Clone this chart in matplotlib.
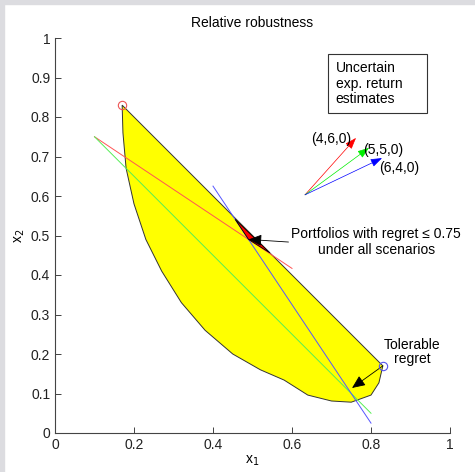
import matplotlib.pyplot as plt
from matplotlib.patches import Polygon, Rectangle

plt.rcParams['font.family'] = ['Liberation Sans', 'DejaVu Sans']

# yellow region: portfolios with tolerable regret (x1, x2)
region_x = [0.17, 0.83, 0.82, 0.80, 0.75, 0.70, 0.64, 0.58, 0.52, 0.45,
            0.38, 0.32, 0.27, 0.23, 0.20, 0.18, 0.172]
region_y = [0.83, 0.17, 0.127, 0.096, 0.078, 0.081, 0.096, 0.134, 0.16, 0.20,
            0.26, 0.33, 0.41, 0.49, 0.58, 0.67, 0.76]

# red sliver: regret <= 0.75 under all scenarios
robust_x = [0.456, 0.544, 0.49]
robust_y = [0.541, 0.456, 0.49]

# regret level lines, one per scenario
line_colors = ['#ff5555', '#55ee55', '#5555ff']
line_x = [[0.10, 0.60], [0.10, 0.80], [0.40, 0.80]]
line_y = [[0.75, 0.4167], [0.75, 0.05], [0.625, 0.025]]

# end points marked with circles
end_x = [0.17, 0.83]
end_y = [0.83, 0.17]
end_colors = ['#ee5555', '#5555ee']

# scenario vectors
vec_origin = (0.633, 0.603)
vec_tip_x = [0.762, 0.795, 0.828]
vec_tip_y = [0.747, 0.722, 0.696]
vec_colors = ['#ff0000', '#00ee00', '#0000ff']
vec_labels = ['(4,6,0)', '(5,5,0)', '(6,4,0)']
vec_label_x = [0.648, 0.78, 0.82]
vec_label_y = [0.745, 0.717, 0.67]

fig = plt.figure(figsize=(4.75, 4.72), dpi=100)
fig.patches.append(Rectangle((0, 1 - 4 / 472), 1, 4 / 472, transform=fig.transFigure,
                             color='#dcdce0', zorder=0))
fig.patches.append(Rectangle((0, 0), 4 / 475, 1, transform=fig.transFigure,
                             color='#dcdce0', zorder=0))
ax = fig.add_axes([55 / 475, 39 / 472, 395 / 475, 395 / 472])

ax.add_patch(Polygon(list(zip(region_x, region_y)), closed=True,
                     facecolor='#ffff00', edgecolor='#333333', lw=0.7, zorder=1))

for xs, ys, c in zip(line_x, line_y, line_colors):
    ax.plot(xs, ys, color=c, lw=0.7, zorder=2)

ax.add_patch(Polygon(list(zip(robust_x, robust_y)), closed=True,
                     facecolor='#ff0000', edgecolor='black', lw=0.6, zorder=3))

for x, y, c in zip(end_x, end_y, end_colors):
    ax.plot(x, y, 'o', mfc='none', mec=c, ms=6, mew=0.8, zorder=4)

for tx, ty, c in zip(vec_tip_x, vec_tip_y, vec_colors):
    ax.annotate('', xy=(tx, ty), xytext=vec_origin,
                arrowprops=dict(arrowstyle='-|>,head_length=0.7,head_width=0.25',
                                color=c, lw=0.5, shrinkA=0, shrinkB=0))
for lx, ly, s in zip(vec_label_x, vec_label_y, vec_labels):
    ax.text(lx, ly, s, fontsize=10, ha='left', va='center')

# note box
ax.add_patch(Rectangle((0.691, 0.81), 0.251, 0.15, facecolor='white',
                       edgecolor='#333333', lw=0.8, zorder=5))
ax.text(0.711, 0.884, 'Uncertain\nexp. return\nestimates', fontsize=10,
        ha='left', va='center', linespacing=1.15, zorder=6)

ax.annotate('Portfolios with regret ≤ 0.75\nunder all scenarios',
            xy=(0.49, 0.49), xytext=(0.813, 0.483), fontsize=10, ha='center', va='center',
            linespacing=1.2,
            arrowprops=dict(arrowstyle='-|>,head_length=0.8,head_width=0.35',
                            color='black', lw=0.6, shrinkA=0, shrinkB=0,
                            relpos=(0, 0.5)))

ax.annotate('Tolerable\nregret', xy=(0.752, 0.114), xytext=(0.904, 0.205),
            fontsize=10, ha='center', va='center', linespacing=1.05)
ax.annotate('', xy=(0.752, 0.114), xytext=(0.83, 0.17),
            arrowprops=dict(arrowstyle='-|>,head_length=0.8,head_width=0.35',
                            color='black', lw=0.6, shrinkA=0, shrinkB=0))

ax.set_xlim(0, 1)
ax.set_ylim(0, 1)
ax.set_xticks([0, 0.2, 0.4, 0.6, 0.8, 1])
ax.set_xticklabels(['0', '0.2', '0.4', '0.6', '0.8', '1'])
ax.set_yticks([0, 0.1, 0.2, 0.3, 0.4, 0.5, 0.6, 0.7, 0.8, 0.9, 1])
ax.set_yticklabels(['0', '0.1', '0.2', '0.3', '0.4', '0.5', '0.6', '0.7', '0.8', '0.9', '1'])
ax.tick_params(direction='in', length=4, width=0.6, labelsize=10, colors='#222222')
ax.spines['top'].set_visible(False)
ax.spines['right'].set_visible(False)
for s in ['left', 'bottom']:
    ax.spines[s].set_color('#444444')
    ax.spines[s].set_linewidth(0.8)

ax.set_title('Relative robustness', fontsize=10, pad=8)
ax.set_xlabel('x$_1$', fontsize=10, labelpad=1)
ax.set_ylabel('x$_2$', fontsize=10, labelpad=3)

fig.savefig('out.png', dpi=100)
